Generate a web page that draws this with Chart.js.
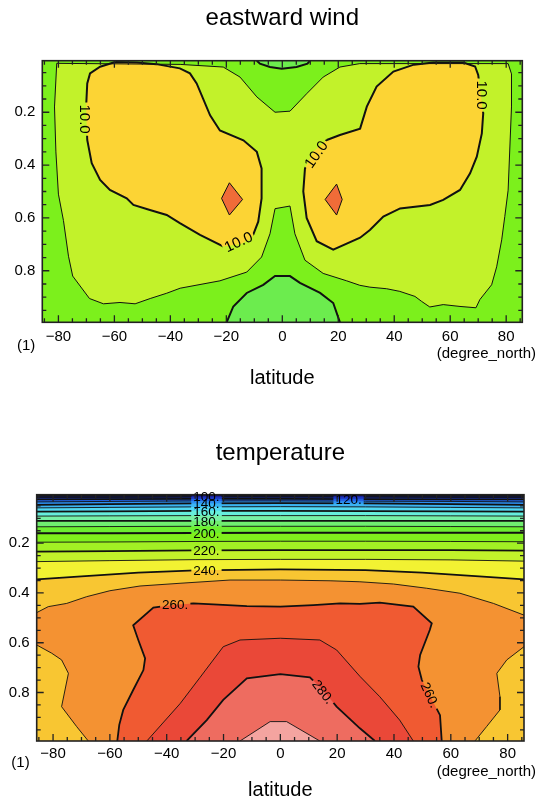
<!DOCTYPE html>
<html>
<head>
<meta charset="utf-8">
<script src="https://cdn.jsdelivr.net/npm/chart.js@4.4.1/dist/chart.umd.min.js"></script>
<style>
  body { margin: 0; background: #fff; }
  canvas { position: absolute; left: 0; }
</style>
</head>
<body>
<canvas id="wind" width="539" height="400" style="top:0px"></canvas>
<canvas id="temp" width="539" height="383" style="top:420px"></canvas>
<script>
const FONT = '"Liberation Sans", Arial, sans-serif';

const LAT_MIN = -85.76, LAT_MAX = 85.76;
const SIG_TOP = 0.005, SIG_BOT = 0.995;
const latTicks = [-80, -60, -40, -20, 0, 20, 40, 60, 80];
const sigTicks = [0.2, 0.4, 0.6, 0.8];

// ---------- eastward wind: contour lines as [lat, sigma] ----------
// band colours: <0, 0-5, 5-10, 10-15, 15-20
const windColors = ['#6cec4e', '#7cf01c', '#c2f22a', '#fcd434', '#f06c38'];

let u5 = [[-80.6, 0.015], [-81.4, 0.18], [-80.9, 0.35], [-80.0, 0.51], [-78.2, 0.61], [-76.4, 0.745],
  [-74.9, 0.82], [-68.9, 0.905], [-63.9, 0.925], [-58, 0.92], [-52.6, 0.925], [-47.2, 0.905],
  [-41.3, 0.885], [-36.5, 0.866], [-22.3, 0.838], [-12.7, 0.805], [-7.4, 0.748], [-4.4, 0.66],
  [-2.6, 0.565], [2.75, 0.555], [4.5, 0.66], [8.1, 0.76], [14.6, 0.81], [23, 0.838], [27.7, 0.855],
  [31.3, 0.862], [37.3, 0.868], [42, 0.878], [47.4, 0.897], [49.8, 0.916], [52.7, 0.937], [57.5, 0.928],
  [63.5, 0.935], [69.2, 0.94], [70.6, 0.909], [74.8, 0.853], [76.6, 0.785], [78.4, 0.683], [79.5, 0.595],
  [80.7, 0.495], [81.9, 0.18], [81.9, 0.055], [80.7, 0.016], [27.7, 0.016], [20.6, 0.029], [14.6, 0.067],
  [8.7, 0.13], [2.75, 0.196], [-2.6, 0.2], [-9.1, 0.142], [-15.1, 0.067], [-21.1, 0.029], [-36.5, 0.019],
  [-80.6, 0.015]];

let u10West = [[-59.7, 0.01], [-65.1, 0.028], [-68.7, 0.053], [-69.7, 0.091], [-70.1, 0.179], [-69.7, 0.305],
  [-68.1, 0.393], [-65.1, 0.456], [-61.6, 0.494], [-55.6, 0.526], [-53.2, 0.551], [-47.3, 0.57],
  [-41.3, 0.589], [-36.6, 0.62], [-29.4, 0.664], [-21.1, 0.708], [-15, 0.7], [-10.9, 0.677], [-8.6, 0.614],
  [-7.4, 0.526], [-7.4, 0.413], [-9.1, 0.35], [-13.9, 0.306], [-22.3, 0.269], [-25.8, 0.212], [-30.6, 0.091],
  [-33, 0.053], [-36.6, 0.034], [-45, 0.018], [-52, 0.012], [-59.7, 0.01]];

let u10East = [[15.9, 0.305], [20.6, 0.286], [27.8, 0.262], [30.2, 0.179], [33.7, 0.103], [39.7, 0.046],
  [47, 0.02], [54, 0.012], [64.7, 0.012], [68.9, 0.027], [70, 0.059], [71.8, 0.204], [71.3, 0.28],
  [69.5, 0.368], [67.1, 0.431], [63.5, 0.494], [57.5, 0.532], [52.8, 0.551], [42.1, 0.564], [36.1, 0.595],
  [31.3, 0.646], [27.8, 0.675], [18.2, 0.72], [12.3, 0.688], [8.7, 0.6], [7.5, 0.5], [8.1, 0.413],
  [11, 0.35], [15.9, 0.305]];

let u15West = [[-18.9, 0.467], [-14.2, 0.53], [-18.9, 0.589], [-21.7, 0.526], [-18.9, 0.467]];
let u15East = [[19.4, 0.472], [21.4, 0.53], [19.4, 0.589], [15.3, 0.53], [19.4, 0.472]];

let u0Bottom = [[-19.9, 0.995], [-17.5, 0.935], [-12.7, 0.884], [-6.8, 0.853], [-2.6, 0.82], [2.75, 0.82],
  [6.3, 0.846], [13.5, 0.884], [18.2, 0.922], [20.6, 0.995]];
let u0Top = [[-9.1, 0.005], [-8, 0.016], [-4.4, 0.029], [-0.2, 0.035], [5.1, 0.029], [9, 0.016], [9.9, 0.005]];

// ---------- temperature ----------
// band colours: <100, 100-110, ..., 280-290, >290
const tempColors = ['#0c0c46', '#18209a', '#1c3cc8', '#2264e6', '#2c8ef0', '#3cb4f2', '#52d8f2',
  '#66eedc', '#78f0a6', '#70ee70', '#6cee30', '#80f01c', '#a2f024', '#c2f22a', '#f2f232',
  '#f8c632', '#f49232', '#f05a32', '#ea4838', '#ee6c60', '#f4a4a0'];

// nearly flat upper contours, sigma at these latitudes
const bandLats = [LAT_MIN, -60, -30, 0, 30, 60, LAT_MAX];
const t100 = [0.010, 0.010, 0.010, 0.010, 0.010, 0.010, 0.010];
const t110 = [0.016, 0.016, 0.015, 0.015, 0.015, 0.016, 0.016];
const t120 = [0.024, 0.023, 0.022, 0.022, 0.023, 0.024, 0.024];
const t130 = [0.034, 0.032, 0.030, 0.030, 0.031, 0.032, 0.034];
const t140 = [0.046, 0.043, 0.040, 0.039, 0.040, 0.043, 0.046];
const t150 = [0.058, 0.056, 0.054, 0.053, 0.054, 0.056, 0.058];
const t160 = [0.073, 0.072, 0.070, 0.070, 0.071, 0.072, 0.073];
const t170 = [0.091, 0.090, 0.089, 0.089, 0.089, 0.090, 0.091];
const t180 = [0.110, 0.110, 0.110, 0.110, 0.110, 0.110, 0.110];
const t190 = [0.134, 0.133, 0.132, 0.132, 0.132, 0.133, 0.134];
const t200 = [0.160, 0.160, 0.159, 0.158, 0.158, 0.158, 0.158];
const t210 = [0.196, 0.195, 0.193, 0.192, 0.192, 0.193, 0.194];
const t220 = [0.234, 0.232, 0.229, 0.228, 0.228, 0.228, 0.230];
const t230 = [0.274, 0.270, 0.266, 0.265, 0.265, 0.267, 0.272];

let t240 = [[LAT_MIN, 0.345], [-70, 0.333], [-50, 0.318], [-30, 0.309], [0, 0.305], [30, 0.308],
  [50, 0.318], [70, 0.333], [LAT_MAX, 0.345]];
let t250 = [[LAT_MIN, 0.479], [-81.7, 0.455], [-75.2, 0.442], [-68.2, 0.415], [-60, 0.391], [-49.4, 0.372],
  [-35.3, 0.361], [-17.7, 0.348], [0, 0.348], [17.5, 0.351], [28, 0.355], [39.8, 0.364], [51.5, 0.381],
  [63.2, 0.401], [75, 0.442], [LAT_MAX, 0.489]];
let t250West = [[LAT_MIN, 0.609], [-80.5, 0.642], [-77, 0.669], [-74.6, 0.723], [-77, 0.857], [-71.7, 0.937],
  [-67.6, 0.995]];
let t250East = [[LAT_MAX, 0.616], [79.7, 0.669], [76.2, 0.723], [77.3, 0.817], [77.3, 0.87], [72.6, 0.937],
  [68.5, 0.995]];
let t260 = [[-57.4, 0.995], [-56.7, 0.93], [-55.3, 0.87], [-51.8, 0.79], [-48.2, 0.71], [-47.6, 0.663],
  [-50, 0.589], [-51.8, 0.53], [-44.7, 0.459], [-37, 0.447], [-30.6, 0.442], [-23.6, 0.446], [-11.8, 0.453],
  [0, 0.455], [11.6, 0.449], [21, 0.442], [28, 0.444], [35, 0.439], [46.8, 0.455], [53.3, 0.522],
  [52.6, 0.549], [49.2, 0.649], [48.6, 0.696], [49.8, 0.75], [56.2, 0.891], [56.8, 0.995]];
let t270 = [[-47, 0.995], [-35.3, 0.845], [-28.3, 0.74], [-20.1, 0.616], [-14.2, 0.589], [0, 0.582],
  [13.9, 0.589], [19.8, 0.629], [28, 0.735], [35, 0.817], [42, 0.911], [46.8, 0.995]];
let t280 = [[-33, 0.995], [-25.9, 0.911], [-20.1, 0.83], [-11.8, 0.743], [0, 0.726], [10.4, 0.739],
  [15, 0.79], [19.8, 0.857], [28, 0.944], [33.3, 0.995]];
let t290 = [[-14.2, 0.995], [-3.6, 0.917], [2.2, 0.917], [13.9, 0.995]];

// ---------- helpers ----------
const pts = arr => arr.map(p => ({x: p[0], y: p[1]}));
const onLats = sig => bandLats.map((lat, i) => [lat, sig[i]]);

function fillSet(arr, color) {
  return {data: pts(arr), showLine: true, fill: 'shape', backgroundColor: color,
    borderWidth: 0, borderColor: 'rgba(0,0,0,0)', pointRadius: 0, tension: 0};
}
function lineSet(arr, width) {
  return {data: pts(arr), showLine: true, fill: false, borderColor: '#111', isContour: true,
    borderWidth: width, pointRadius: 0, tension: 0};
}
function ordered(list) {
  // first item drawn first (bottom)
  return list.map((d, i) => Object.assign(d, {order: list.length - i}));
}

function bgPlugin(color) {
  return {
    id: 'bg',
    beforeDatasetsDraw(chart) {
      const a = chart.chartArea, ctx = chart.ctx;
      ctx.save();
      ctx.fillStyle = color;
      ctx.fillRect(a.left, a.top, a.width, a.height);
      ctx.restore();
    }
  };
}

const frameTicks = {
  id: 'frameTicks',
  afterDatasetsDraw(chart) {
    const {ctx, chartArea: a, scales: {x, y}} = chart;
    ctx.save();
    ctx.strokeStyle = '#222';
    ctx.lineWidth = 1.3;
    ctx.beginPath();
    for (let v = -85; v <= 85; v += 5) {
      const px = x.getPixelForValue(v);
      const len = v % 20 === 0 ? 7 : 4;
      ctx.moveTo(px, a.bottom); ctx.lineTo(px, a.bottom - len);
      ctx.moveTo(px, a.top); ctx.lineTo(px, a.top + len);
    }
    for (let k = 1; k < 20; k++) {
      const py = y.getPixelForValue(k * 0.05);
      const len = k % 4 === 0 ? 7 : 4;
      ctx.moveTo(a.left, py); ctx.lineTo(a.left + len, py);
      ctx.moveTo(a.right, py); ctx.lineTo(a.right - len, py);
    }
    ctx.stroke();
    ctx.lineWidth = 1.6;
    ctx.strokeRect(a.left, a.top, a.width, a.height);
    ctx.restore();
  }
};

// contour labels: the contour lines get a gap under each label
function labelPlugin(labels, size) {
  function boxes(chart) {
    const {ctx, scales: {x, y}} = chart;
    ctx.save();
    ctx.font = size + 'px ' + FONT;
    const out = labels.map(l => ({
      l, px: x.getPixelForValue(l.lat), py: y.getPixelForValue(l.sig),
      w: ctx.measureText(l.text).width + 4, h: size * 0.95, a: l.angle * Math.PI / 180
    }));
    ctx.restore();
    return out;
  }
  return {
    id: 'contourLabels',
    beforeDatasetDraw(chart, args) {
      if (!chart.data.datasets[args.index].isContour) return;
      const ctx = chart.ctx;
      ctx.save();
      for (const b of boxes(chart)) {
        const c = Math.cos(b.a), s = Math.sin(b.a);
        const corner = (u, v) => [b.px + u * c - v * s, b.py + u * s + v * c];
        const p = [corner(-b.w / 2, -b.h / 2), corner(b.w / 2, -b.h / 2), corner(b.w / 2, b.h / 2), corner(-b.w / 2, b.h / 2)];
        ctx.beginPath();
        ctx.rect(-1000, -1000, 3000, 3000);
        ctx.moveTo(p[0][0], p[0][1]);
        for (let i = 1; i < 4; i++) ctx.lineTo(p[i][0], p[i][1]);
        ctx.closePath();
        ctx.clip('evenodd');
      }
    },
    afterDatasetDraw(chart, args) {
      if (!chart.data.datasets[args.index].isContour) return;
      chart.ctx.restore();
    },
    afterDatasetsDraw(chart) {
      const ctx = chart.ctx;
      ctx.save();
      ctx.font = size + 'px ' + FONT;
      ctx.textAlign = 'center';
      ctx.textBaseline = 'middle';
      ctx.fillStyle = '#000';
      for (const b of boxes(chart)) {
        ctx.save();
        ctx.translate(b.px, b.py);
        ctx.rotate(b.a);
        ctx.fillText(b.l.text, 0, 1);
        ctx.restore();
      }
      ctx.restore();
    }
  };
}

function unitPlugin(dyLeft, dyRight) {
  return {
    id: 'units',
    afterDraw(chart) {
      const {ctx, chartArea: a} = chart;
      ctx.save();
      ctx.font = '15px ' + FONT;
      ctx.fillStyle = '#000';
      ctx.textBaseline = 'middle';
      ctx.textAlign = 'right';
      ctx.fillText('(1)', a.left - 7, a.bottom + dyLeft);
      ctx.fillText('(degree_north)', chart.width - 3, a.bottom + dyRight);
      ctx.restore();
    }
  };
}

function makeOptions(cfg) {
  return {
    responsive: false,
    animation: false,
    layout: {padding: {left: 0, right: cfg.padRight, top: 0, bottom: 0}},
    plugins: {
      legend: {display: false},
      tooltip: {enabled: false},
      title: {display: true, text: cfg.title, fullSize: false, color: '#000',
        font: {family: FONT, size: 24, weight: 'normal'},
        padding: {top: cfg.titleTop, bottom: cfg.titleBottom}}
    },
    scales: {
      x: {
        type: 'linear', min: LAT_MIN, max: LAT_MAX,
        afterBuildTicks: s => { s.ticks = latTicks.map(v => ({value: v})); },
        afterFit: s => { s.height = cfg.xHeight; },
        ticks: {callback: v => (v < 0 ? '\u2212' + Math.abs(v) : String(v)), color: '#000',
          font: {family: FONT, size: 15}, padding: cfg.xTickPad, maxRotation: 0, autoSkip: false},
        grid: {display: false, drawTicks: false},
        border: {display: false},
        title: {display: true, text: 'latitude', color: '#000', font: {family: FONT, size: 20},
          padding: {top: 0, bottom: cfg.xTitlePad}}
      },
      y: {
        type: 'linear', reverse: true, min: SIG_TOP, max: SIG_BOT,
        afterBuildTicks: s => { s.ticks = sigTicks.map(v => ({value: v})); },
        afterFit: s => { s.width = cfg.yWidth; },
        ticks: {callback: v => v.toFixed(1), color: '#000', font: {family: FONT, size: 15}, padding: 7},
        grid: {display: false, drawTicks: false},
        border: {display: false}
      }
    }
  };
}

// ---------- wind chart ----------
const windSets = ordered([
  fillSet(u5, windColors[2]),
  fillSet(u10West, windColors[3]),
  fillSet(u10East, windColors[3]),
  fillSet(u15West, windColors[4]),
  fillSet(u15East, windColors[4]),
  fillSet(u0Bottom, windColors[0]),
  fillSet(u0Top, windColors[0]),
  lineSet(u5, 1),
  lineSet(u15West, 1),
  lineSet(u15East, 1),
  lineSet(u10West, 2),
  lineSet(u10East, 2),
  lineSet(u0Bottom, 2),
  lineSet(u0Top, 2)
]);

const windLabels = [
  {text: '10.0', lat: -70.5, sig: 0.226, angle: 90},
  {text: '10.0', lat: 71.3, sig: 0.135, angle: 90},
  {text: '10.0', lat: -15.7, sig: 0.69, angle: -25},
  {text: '10.0', lat: 12, sig: 0.359, angle: -55}
];

new Chart(document.getElementById('wind'), {
  type: 'scatter',
  data: {datasets: windSets},
  options: makeOptions({title: 'eastward wind', padRight: 16.7, titleTop: 3.6, titleBottom: 28.3,
    xHeight: 77.7, xTickPad: 5.4, xTitlePad: 10, yWidth: 42.3}),
  plugins: [bgPlugin(windColors[1]), frameTicks, labelPlugin(windLabels, 15), unitPlugin(23.4, 32)]
});

// ---------- temperature chart ----------
const flatLevels = [t100, t110, t120, t130, t140, t150, t160, t170, t180, t190, t200, t210, t220, t230];
const bottomEdge = [[LAT_MAX, SIG_BOT], [LAT_MIN, SIG_BOT]];
const tempFills = [];
const tempLines = [];
flatLevels.forEach((sig, j) => {
  const line = onLats(sig);
  tempFills.push(fillSet(line.concat(bottomEdge), tempColors[j + 1]));
  tempLines.push(lineSet(line, j % 2 === 0 ? 1.8 : 0.9));
});
tempFills.push(fillSet(t240.concat(bottomEdge), tempColors[15]));
tempFills.push(fillSet(t250.concat(t250East, t250West.slice().reverse()), tempColors[16]));
tempFills.push(fillSet(t260, tempColors[17]));
tempFills.push(fillSet(t270, tempColors[18]));
tempFills.push(fillSet(t280, tempColors[19]));
tempFills.push(fillSet(t290, tempColors[20]));
tempLines.push(lineSet(t240, 1.8), lineSet(t250, 0.9), lineSet(t250West, 0.9), lineSet(t250East, 0.9),
  lineSet(t260, 1.8), lineSet(t270, 0.9), lineSet(t280, 1.8), lineSet(t290, 0.9));

const tempLabels = [
  {text: '100.', lat: -26, sig: 0.010, angle: 0},
  {text: '120.', lat: 24, sig: 0.023, angle: 0},
  {text: '140.', lat: -26, sig: 0.040, angle: 0},
  {text: '160.', lat: -26, sig: 0.071, angle: 0},
  {text: '180.', lat: -26, sig: 0.110, angle: 0},
  {text: '200.', lat: -26, sig: 0.159, angle: 0},
  {text: '220.', lat: -26, sig: 0.229, angle: 0},
  {text: '240.', lat: -26, sig: 0.309, angle: 0},
  {text: '260.', lat: -37, sig: 0.447, angle: 0},
  {text: '280.', lat: 15.1, sig: 0.797, angle: 52},
  {text: '260.', lat: 52.7, sig: 0.81, angle: 65}
];

new Chart(document.getElementById('temp'), {
  type: 'scatter',
  data: {datasets: ordered(tempFills.concat(tempLines))},
  options: makeOptions({title: 'temperature', padRight: 15, titleTop: 18.6, titleBottom: 27.3,
    xHeight: 62, xTickPad: 4, xTitlePad: 1, yWidth: 36.7}),
  plugins: [bgPlugin(tempColors[0]), frameTicks, labelPlugin(tempLabels, 13.5), unitPlugin(22.3, 30.7)]
});
</script>
</body>
</html>
